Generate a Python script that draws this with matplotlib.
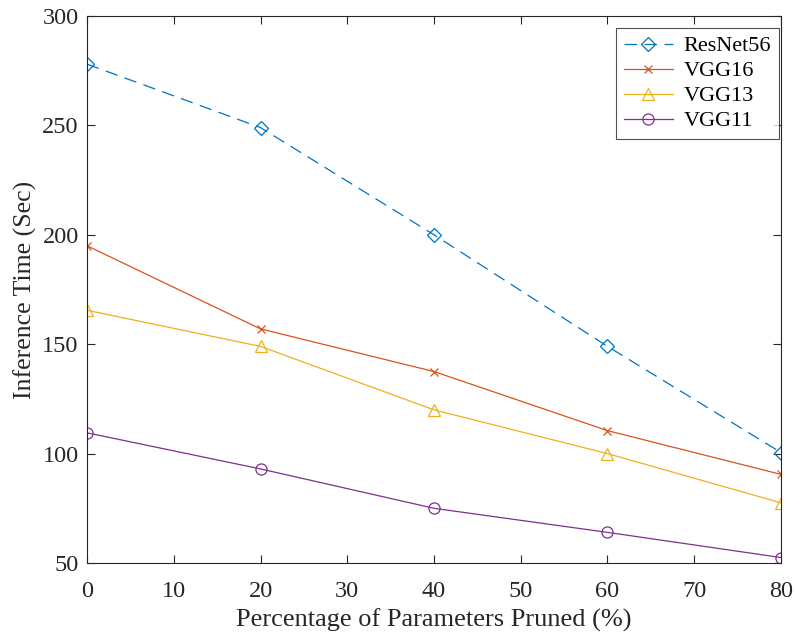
import matplotlib
matplotlib.use("Agg")
import matplotlib.pyplot as plt

pruned_pct = [0, 20, 40, 60, 80]
resnet56 = [278, 249, 200, 149, 100.5]
vgg16 = [195, 157, 137.5, 110.5, 90.5]
vgg13 = [165.5, 149, 120, 100, 77.5]
vgg11 = [109.5, 93, 75, 64, 52.5]

xticks = [0, 10, 20, 30, 40, 50, 60, 70, 80]
yticks = [50, 100, 150, 200, 250, 300]

plt.rcParams["font.family"] = ["Liberation Serif", "DejaVu Serif"]

W, H = 796, 635
fig = plt.figure(figsize=(W / 100, H / 100), dpi=100)
ax = fig.add_axes([87 / W, 1 - 563 / H, (781 - 87) / W, (563 - 16) / H])

ax.plot(pruned_pct, resnet56, color="#0072BD", linestyle=(0, (10, 6)), linewidth=0.9,
        marker="D", markersize=7, markerfacecolor="none", markeredgewidth=0.9, label="ResNet56")
ax.plot(pruned_pct, vgg16, color="#D95319", linewidth=0.9,
        marker="x", markersize=6, markeredgewidth=0.9, label="VGG16")
ax.plot(pruned_pct, vgg13, color="#EDB120", linewidth=0.9,
        marker="^", markersize=9, markerfacecolor="none", markeredgewidth=0.9, label="VGG13")
ax.plot(pruned_pct, vgg11, color="#7E2F8E", linewidth=0.9,
        marker="o", markersize=8, markerfacecolor="none", markeredgewidth=0.9, label="VGG11")

ax.set_xlim(0, 80)
ax.set_ylim(50, 300)
ax.set_xticks(xticks)
ax.set_yticks(yticks)
ax.tick_params(direction="in", top=True, right=True, length=6, width=0.8,
               labelsize=17.5, colors="#262626")
ax.tick_params(axis="x", pad=13)
ax.tick_params(axis="y", pad=6)
for s in ax.spines.values():
    s.set_color("#262626")
    s.set_linewidth(0.8)

ax.set_xlabel("Percentage of Parameters Pruned (%)", fontsize=19, color="#262626", labelpad=5)
ax.set_ylabel("Inference Time (Sec)", fontsize=18.5, color="#262626", labelpad=4)

leg = ax.legend(loc="upper right", bbox_to_anchor=(779 / W, 1 - 28 / H),
                bbox_transform=fig.transFigure, borderaxespad=0,
                fontsize=16, frameon=True, fancybox=False,
                edgecolor="#262626", handlelength=2.2, labelspacing=0.2,
                handletextpad=0.5, borderpad=0.35)
leg.get_frame().set_linewidth(0.8)

fig.savefig("out.png", dpi=100)
